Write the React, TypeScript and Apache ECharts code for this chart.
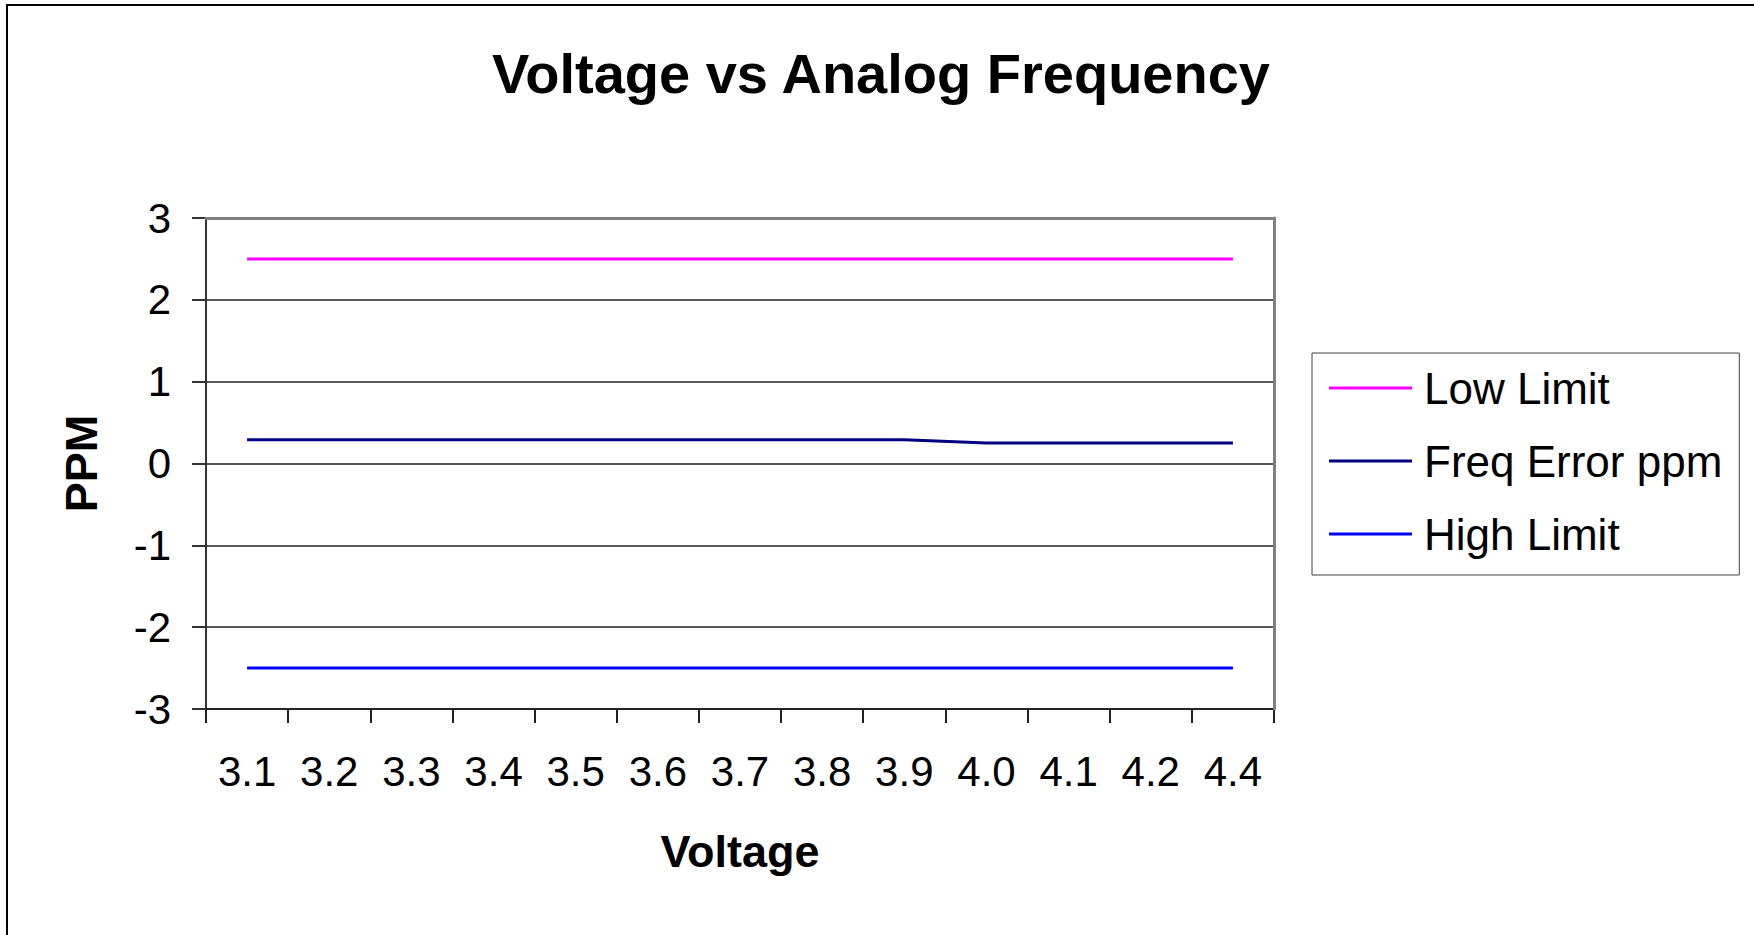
import React, { useEffect, useRef } from "react";
import * as echarts from "echarts";

const categories = ["3.1", "3.2", "3.3", "3.4", "3.5", "3.6", "3.7", "3.8", "3.9", "4.0", "4.1", "4.2", "4.4"];
const lowLimit = [2.5, 2.5, 2.5, 2.5, 2.5, 2.5, 2.5, 2.5, 2.5, 2.5, 2.5, 2.5, 2.5];
const freqError = [0.29, 0.29, 0.29, 0.29, 0.29, 0.29, 0.29, 0.29, 0.29, 0.25, 0.25, 0.25, 0.25];
const highLimit = [-2.5, -2.5, -2.5, -2.5, -2.5, -2.5, -2.5, -2.5, -2.5, -2.5, -2.5, -2.5, -2.5];
const yTicks = { min: -3, max: 3, interval: 1 };

const FONT = "'Liberation Sans', Arial, sans-serif";

export default function App() {
  const ref = useRef<HTMLDivElement>(null);
  useEffect(() => {
    document.body.style.margin = "0";
    const chart = echarts.init(ref.current!, null, { renderer: "svg" });
    const mkSeries = (name: string, data: number[], color: string) => ({
      name,
      type: "line",
      data,
      symbol: "none",
      showSymbol: false,
      lineStyle: { color, width: 3 },
      itemStyle: { color },
      xAxisIndex: 0,
      yAxisIndex: 0,
    });
    chart.setOption({
      animation: false,
      backgroundColor: "#ffffff",
      textStyle: { fontFamily: FONT },
      title: {
        text: "Voltage vs Analog Frequency",
        left: 881,
        textAlign: "center",
        top: 45,
        padding: 0,
        textStyle: { fontFamily: FONT, fontSize: 56, fontWeight: "bold", color: "#000", lineHeight: 56 },
      },
      graphic: [
        {
          type: "rect",
          shape: { x: 7, y: 5, width: 1800, height: 1000 },
          style: { fill: "none", stroke: "#000", lineWidth: 2 },
          silent: true,
        },
      ],
      legend: {
        orient: "vertical",
        left: 1312,
        top: 353,
        padding: [13, 17, 19, 17],
        itemGap: 29,
        itemWidth: 83,
        itemHeight: 3,
        icon: "rect",
        borderColor: "#404040",
        borderWidth: 1,
        backgroundColor: "#fff",
        data: ["Low Limit", "Freq Error ppm", "High Limit"],
        textStyle: { fontFamily: FONT, fontSize: 44, color: "#000", lineHeight: 44, padding: [0, 0, 0, 7] },
      },
      grid: { left: 206, top: 218, width: 1068, height: 491, containLabel: false },
      xAxis: [
        {
          type: "category",
          data: categories,
          boundaryGap: true,
          axisLine: { show: true, onZero: false, lineStyle: { color: "#222", width: 2 } },
          axisTick: { show: true, inside: false, length: 14, alignWithLabel: false, lineStyle: { color: "#222", width: 2 } },
          axisLabel: { color: "#000", fontSize: 42, fontFamily: FONT, margin: 41, lineHeight: 42, interval: 0 },
          splitLine: { show: false },
          name: "Voltage",
          nameLocation: "middle",
          nameGap: 120,
          nameTextStyle: { fontFamily: FONT, fontSize: 45, fontWeight: "bold", color: "#000", lineHeight: 45 },
        },
        {
          type: "category",
          data: categories,
          position: "top",
          z: 5,
          axisLine: { show: true, onZero: false, lineStyle: { color: "#808080", width: 3 } },
          axisTick: { show: false },
          axisLabel: { show: false },
          splitLine: { show: false },
        },
      ],
      yAxis: [
        {
          type: "value",
          min: yTicks.min,
          max: yTicks.max,
          interval: yTicks.interval,
          axisLine: { show: true, onZero: false, lineStyle: { color: "#333", width: 2 } },
          axisTick: { show: true, inside: false, length: 14, lineStyle: { color: "#333", width: 2 } },
          axisLabel: { color: "#000", fontSize: 42, fontFamily: FONT, margin: 35 },
          splitLine: { show: true, lineStyle: { color: "#222", width: 1.5 } },
          name: "PPM",
          nameLocation: "middle",
          nameGap: 102,
          nameRotate: 90,
          nameTextStyle: { fontFamily: FONT, fontSize: 45, fontWeight: "bold", color: "#000", lineHeight: 45 },
        },
        {
          type: "value",
          min: yTicks.min,
          max: yTicks.max,
          interval: yTicks.interval,
          position: "right",
          z: 5,
          axisLine: { show: true, onZero: false, lineStyle: { color: "#808080", width: 3 } },
          axisTick: { show: false },
          axisLabel: { show: false },
          splitLine: { show: false },
        },
      ],
      series: [
        mkSeries("Low Limit", lowLimit, "#FF00FF"),
        mkSeries("Freq Error ppm", freqError, "#000080"),
        mkSeries("High Limit", highLimit, "#0000FF"),
      ],
    });
    return () => chart.dispose();
  }, []);
  return <div ref={ref} style={{ position: "fixed", left: 0, top: 0, width: 1754, height: 935 }} />;
}
